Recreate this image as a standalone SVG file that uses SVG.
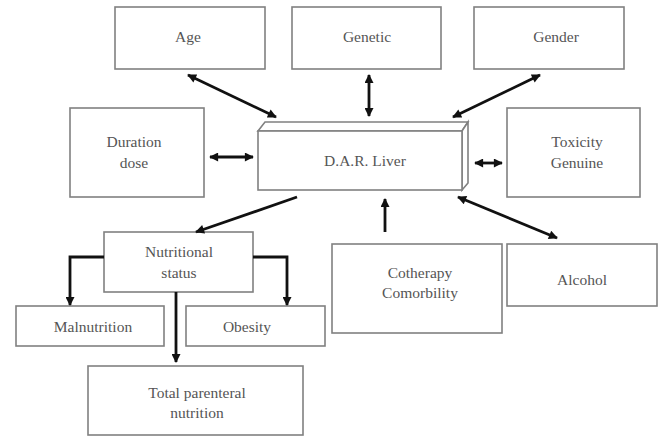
<svg xmlns="http://www.w3.org/2000/svg" width="660" height="436" viewBox="0 0 660 436">
<defs>
<style>
.box{fill:#fff;stroke:#808080;stroke-width:1.6}
.t{font-family:"Liberation Serif","Times New Roman",serif;font-size:15.5px;fill:#555;text-anchor:middle}
.c{fill:none;stroke:#111;stroke-width:2.8}
</style>
<marker id="ah" viewBox="0 0 10 10" refX="9" refY="5" markerWidth="10" markerHeight="9" markerUnits="userSpaceOnUse" orient="auto-start-reverse">
<path d="M0,0 L10,5 L0,10 Z" fill="#111"/>
</marker>
</defs>
<rect width="660" height="436" fill="#fff"/>
<g id="age"><rect class="box" x="115" y="7" width="150" height="62"/><text class="t" x="188" y="42">Age</text></g>
<g id="genetic"><rect class="box" x="292" y="7" width="149" height="62"/><text class="t" x="367" y="42">Genetic</text></g>
<g id="gender"><rect class="box" x="474" y="7" width="150" height="62"/><text class="t" x="556" y="42">Gender</text></g>
<g id="duration"><rect class="box" x="70" y="108" width="134" height="89"/><text class="t" x="134" y="147">Duration</text><text class="t" x="134" y="168">dose</text></g>
<g id="dar">
<polygon class="box" points="258,131 265,122 468,122 462,131"/>
<polygon class="box" points="462,131 468,122 468,183 462,190"/>
<rect class="box" x="258" y="131" width="204" height="59"/>
<text class="t" x="365" y="166">D.A.R. Liver</text>
</g>
<g id="toxicity"><rect class="box" x="507" y="108" width="133" height="89"/><text class="t" x="577" y="147">Toxicity</text><text class="t" x="577" y="168">Genuine</text></g>
<g id="nutritional"><rect class="box" x="104" y="232" width="149" height="60"/><text class="t" x="179" y="257">Nutritional</text><text class="t" x="179" y="278">status</text></g>
<g id="malnutrition"><rect class="box" x="16" y="306" width="148" height="40"/><text class="t" x="93" y="332">Malnutrition</text></g>
<g id="obesity"><rect class="box" x="186" y="306" width="139" height="40"/><text class="t" x="247" y="332">Obesity</text></g>
<g id="tpn"><rect class="box" x="88" y="366" width="215" height="69"/><text class="t" x="197" y="398">Total parenteral</text><text class="t" x="197" y="418">nutrition</text></g>
<g id="cotherapy"><rect class="box" x="332" y="244" width="170" height="89"/><text class="t" x="420" y="278">Cotherapy</text><text class="t" x="420" y="298">Comorbility</text></g>
<g id="alcohol"><rect class="box" x="507" y="244" width="150" height="62"/><text class="t" x="582" y="285">Alcohol</text></g>
<g id="connectors">
<line class="c" x1="188" y1="75" x2="276" y2="117" marker-start="url(#ah)" marker-end="url(#ah)"/>
<line class="c" x1="369" y1="75" x2="369" y2="116" marker-start="url(#ah)" marker-end="url(#ah)"/>
<line class="c" x1="540" y1="75" x2="453" y2="117" marker-start="url(#ah)" marker-end="url(#ah)"/>
<line class="c" x1="210" y1="157" x2="253" y2="157" marker-start="url(#ah)" marker-end="url(#ah)"/>
<line class="c" x1="475" y1="163" x2="502" y2="163" marker-start="url(#ah)" marker-end="url(#ah)"/>
<line class="c" x1="297" y1="197" x2="196" y2="232" marker-end="url(#ah)"/>
<line class="c" x1="385" y1="232" x2="385" y2="199" marker-end="url(#ah)"/>
<line class="c" x1="458" y1="197" x2="557" y2="238" marker-start="url(#ah)" marker-end="url(#ah)"/>
<polyline class="c" points="104,257 70,257 70,305" marker-end="url(#ah)"/>
<polyline class="c" points="253,257 287,257 287,305" marker-end="url(#ah)"/>
<line class="c" x1="176" y1="292" x2="176" y2="362" marker-end="url(#ah)"/>
</g>
</svg>
